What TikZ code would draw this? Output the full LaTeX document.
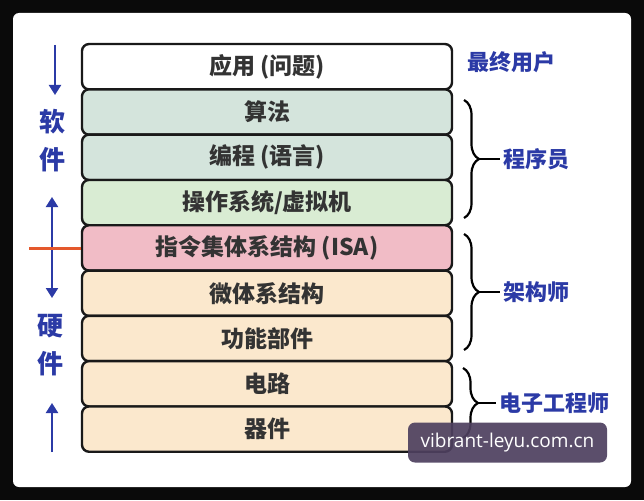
\documentclass[tikz,border=0pt]{standalone}
\usepackage{fontspec}
\setmainfont{Noto Sans CJK SC}
\newfontfamily\wmfont{Open Sans}
\usetikzlibrary{positioning,arrows.meta,decorations.pathreplacing}
\definecolor{framecol}{HTML}{0A0A0A}
\definecolor{appcol}{HTML}{FFFFFF}
\definecolor{progcol}{HTML}{D4E4DC}
\definecolor{oscol}{HTML}{D9ECD3}
\definecolor{isacol}{HTML}{F1BCC6}
\definecolor{hwcol}{HTML}{FBE8CD}
\definecolor{labcol}{HTML}{2B3AA6}
\definecolor{cutcol}{HTML}{E4582C}
\definecolor{wmcol}{HTML}{4E405F}
\tikzset{
  layer/.style={draw=black!90, line width=2.4pt, rounded corners=7pt,
    minimum width=370pt, minimum height=45.3pt,
    font=\fontsize{23}{26}\selectfont\bfseries, text=black!80},
  role/.style={text=labcol, font=\fontsize{22}{26}\selectfont\bfseries},
  side/.style={text=labcol, font=\fontsize{26}{38}\selectfont\bfseries, align=center},
  bracket/.style={decorate, decoration={brace, amplitude=15pt}, line width=2.2pt},
  dir/.style={draw=labcol, line width=2.2pt},
  wm/.style={fill=wmcol, fill opacity=0.92, text opacity=1, text=white,
    rounded corners=7pt, minimum width=199pt, minimum height=40pt,
    font=\wmfont\fontsize{19}{22}\selectfont},
  >={Triangle[length=10pt,width=12pt]}
}
\begin{document}
\begin{tikzpicture}[x=1pt, y=-1pt, node distance=45.3pt]
    \fill[framecol] (0,0) rectangle (644,500);
    \fill[white, rounded corners=6pt] (13,13) rectangle (631,487);
    % layers
    \node[layer, fill=appcol] (app) at (267,66.7) {应用 (问题)};
    \node[layer, fill=progcol] (alg) [below of=app] {算法};
    \node[layer, fill=progcol] (lang) [below of=alg] {编程 (语言)};
    \node[layer, fill=oscol] (os) [below of=lang] {操作系统/虚拟机};
    \node[layer, fill=isacol] (isa) [below of=os] {指令集体系结构 (ISA)};
    \node[layer, fill=hwcol] (micro) [below of=isa] {微体系结构};
    \node[layer, fill=hwcol] (unit) [below of=micro] {功能部件};
    \node[layer, fill=hwcol] (circ) [below of=unit] {电路};
    \node[layer, fill=hwcol] (dev) [below of=circ] {器件};
    % left side
    \node[side] (soft) at (52,141) {软\\件};
    \node[side] (hard) at (50,345) {硬\\件};
    \coordinate (s0) at (55,45);
    \coordinate (s1) at (55,95);
    \coordinate (m0) at (52,197);
    \coordinate (m1) at (52,298);
    \coordinate (h0) at (52,452);
    \coordinate (h1) at (52,403);
    \coordinate (cut) at (29,248);
    \draw[dir, ->] (s0) -- (s1);
    \draw[dir, <->] (m0) -- (m1);
    \draw[dir, ->] (h0) -- (h1);
    \draw[cutcol, line width=3pt] (cut) -- (cut -| isa.west);
    % right side
    \node[role] (user) at (511,62) {最终用户};
    \node[role, anchor=west] (prog) at (500,159) {程序员};
    \node[role, anchor=west] (arch) at (500,292) {架构师};
    \node[role, anchor=west] (ee) at (496,403) {电子工程师};
    \draw[bracket] (464,100) -- (464,218);
    \draw[bracket] (464,234) -- (464,350);
    \draw[bracket] (463,368) -- (463,438);
    \coordinate (progtip) at (479,159);
    \coordinate (archtip) at (479,292);
    \coordinate (eetip) at (478,403);
    \draw[line width=2pt] (progtip) -- (prog.west);
    \draw[line width=2pt] (archtip) -- (arch.west);
    \draw[line width=2pt] (eetip) -- (ee.west);
    % watermark
    \node[wm] (mark) at (507.5,442.5) {vibrant-leyu.com.cn};
  \end{tikzpicture}
\end{document}
